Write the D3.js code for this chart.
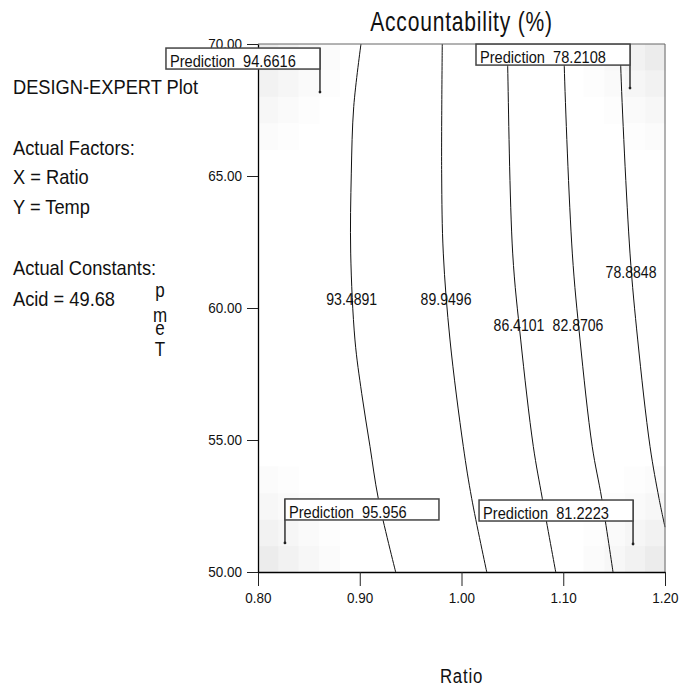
<!DOCTYPE html>
<html>
  <head>
    <title>Accountability contour plot</title>
    <script src="https://d3js.org/d3.v7.min.js"></script>
    <style>
      body { margin: 0; background: #fff; }
      text { font-family: "Liberation Sans", Arial, sans-serif; fill: #111; white-space: pre; }
    </style>
  </head>
  <body>
    <div id="chart"></div>
    <script>
      // Axis ticks
      var ratioTicks = [0.80, 0.90, 1.00, 1.10, 1.20];
      var tempTicks = [50, 55, 60, 65, 70];

      // Contour levels and their lines as [Ratio, Temp] points
      var contourLevels = ["93.4891", "89.9496", "86.4101", "82.8706", "78.8848"];
      var contour93 = [[0.9012, 70], [0.8941, 67.63], [0.8917, 65.11], [0.8911, 62.08], [0.8953, 58.79], [0.9019, 56.77], [0.9101, 54.75], [0.9182, 52.79], [0.9353, 50]];
      var contour90 = [[0.9811, 70], [0.9805, 65.11], [0.9821, 62.08], [0.9887, 58.79], [1.0018, 54.75], [1.0100, 52.79], [1.0248, 50]];
      var contour86 = [[1.0450, 70], [1.0454, 69.14], [1.0503, 62.08], [1.0582, 58.79], [1.0706, 54.75], [1.0794, 52.79], [1.0926, 50]];
      var contour83 = [[1.1007, 70], [1.1010, 69.14], [1.1089, 62.08], [1.1165, 58.79], [1.1285, 54.75], [1.1378, 52.79], [1.1489, 50]];
      var contour79 = [[1.1562, 70], [1.1565, 69.14], [1.1656, 62.08], [1.1732, 58.79], [1.1853, 54.75], [1.1941, 52.79], [1.2000, 51.70]];
      var contourLines = [contour93, contour90, contour86, contour83, contour79];

      // where each level label sits
      var labelRatio = [0.8921, 0.9848, 1.0565, 1.1145, 1.1666];
      var labelTemp = [60.11, 60.11, 59.13, 59.13, 61.15];

      // Prediction flags
      var predValues = ["94.6616", "78.2108", "95.956", "81.2223"];
      var predRatio = [0.8609, 1.1656, 0.8265, 1.1686];
      var predTemp = [68.18, 68.33, 51.10, 51.06];

      // standard error shading in the corners (grey level, corner cell first)
      var cornerShade = [
        [0.925, 0.950, 0.968, 0.985],
        [0.950, 0.965, 0.982, 0.993],
        [0.968, 0.982, 0.993, 1.000],
        [0.985, 0.993, 1.000, 1.000]
      ];

      var sideText = [
        ["DESIGN-EXPERT Plot", 94],
        ["Actual Factors:", 155],
        ["X = Ratio", 184],
        ["Y = Temp", 214],
        ["Actual Constants:", 275],
        ["Acid = 49.68", 306]
      ];

      var width = 680, height = 689;
      var pLeft = 258, pRight = 665, pTop = 44, pBottom = 572;

      var svg = d3.select("#chart")
        .append("svg")
        .attr("width", width)
        .attr("height", height);

      var x = d3.scaleLinear().domain([0.8, 1.2]).range([pLeft, pRight]);
      var y = d3.scaleLinear().domain([50, 70]).range([pBottom, pTop]);

      // squash text horizontally, keeping its anchor point where it was
      function squeeze(sel, sx) {
        sel.each(function() {
          var t = d3.select(this);
          var tx = +t.attr("x") || 0, ty = +t.attr("y") || 0;
          t.attr("x", 0).attr("y", 0)
            .attr("transform", "translate(" + tx + "," + ty + ") scale(" + sx + ",1)");
        });
      }

      // corner shading grid (20 x 20 cells)
      var nCells = 20;
      var cw = (pRight - pLeft) / nCells, ch = (pBottom - pTop) / nCells;
      var cells = [];
      cornerShade.forEach(function(row, i) {
        row.forEach(function(v, j) {
          if (v >= 1) return;
          cells.push({ c: j, r: i, v: v });
          cells.push({ c: nCells - 1 - j, r: i, v: v });
          cells.push({ c: j, r: nCells - 1 - i, v: v });
          cells.push({ c: nCells - 1 - j, r: nCells - 1 - i, v: v });
        });
      });
      svg.append("g").selectAll("rect")
        .data(cells)
        .enter()
        .append("rect")
        .attr("x", function(d) { return pLeft + d.c * cw; })
        .attr("y", function(d) { return pTop + d.r * ch; })
        .attr("width", cw + 0.5)
        .attr("height", ch + 0.5)
        .attr("fill", function(d) { var g = Math.round(d.v * 255); return d3.rgb(g, g, g); });

      // contour lines
      var line = d3.line()
        .x(function(d) { return x(d[0]); })
        .y(function(d) { return y(d[1]); })
        .curve(d3.curveCatmullRom.alpha(0.5));

      svg.append("g").selectAll("path")
        .data(contourLines)
        .enter()
        .append("path")
        .attr("d", line)
        .attr("fill", "none")
        .attr("stroke", "#111")
        .attr("stroke-width", 1);

      svg.append("g").selectAll("text")
        .data(contourLevels)
        .enter()
        .append("text")
        .attr("x", function(d, i) { return x(labelRatio[i]); })
        .attr("y", function(d, i) { return y(labelTemp[i]); })
        .attr("text-anchor", "middle")
        .style("font-size", "16px")
        .text(function(d) { return d; })
        .call(squeeze, 0.88);

      // frame: top and right in grey
      svg.append("path")
        .attr("d", "M" + pLeft + "," + pTop + "H" + pRight + "V" + pBottom)
        .attr("fill", "none")
        .attr("stroke", "#666")
        .attr("stroke-width", 1);

      // axes
      var xAxis = svg.append("g")
        .attr("transform", "translate(0," + pBottom + ")")
        .call(d3.axisBottom(x).tickValues(ratioTicks).tickFormat(d3.format(".2f")).tickSize(14).tickSizeOuter(0).tickPadding(6));
      var yAxis = svg.append("g")
        .attr("transform", "translate(" + pLeft + ",0)")
        .call(d3.axisLeft(y).tickValues(tempTicks).tickFormat(d3.format(".2f")).tickSize(11).tickSizeOuter(0).tickPadding(5));

      [xAxis, yAxis].forEach(function(ax) {
        ax.select(".domain").attr("stroke", "#000").attr("stroke-width", 1.3);
        ax.selectAll(".tick line").attr("stroke", "#222");
        ax.selectAll(".tick text")
          .style("font-size", "15px")
          .style("font-family", "'Liberation Sans', Arial, sans-serif")
          .attr("fill", "#111")
          .call(squeeze, 0.9);
      });

      // prediction flags
      var boxW = 154, boxH = 21, boxGap = 23;
      var boxOnRight = [false, false, true, false];
      var flags = svg.append("g").selectAll("g")
        .data(predValues)
        .enter()
        .append("g")
        .attr("transform", function(d, i) { return "translate(" + x(predRatio[i]) + "," + y(predTemp[i]) + ")"; });

      flags.append("line")
        .attr("x1", 0).attr("x2", 0)
        .attr("y1", -boxGap - boxH).attr("y2", 0)
        .attr("stroke", "#333")
        .attr("stroke-width", 1.5);
      flags.append("circle")
        .attr("r", 1.4)
        .attr("fill", "#222");
      flags.append("rect")
        .attr("x", function(d, i) { return boxOnRight[i] ? 0 : -boxW; })
        .attr("y", -boxGap - boxH)
        .attr("width", boxW)
        .attr("height", boxH)
        .attr("fill", "#fff")
        .attr("stroke", "#444")
        .attr("stroke-width", 1.5);
      flags.append("text")
        .attr("x", function(d, i) { return (boxOnRight[i] ? 0 : -boxW) + 4; })
        .attr("y", -boxGap - 2)
        .style("font-size", "17px")
        .text(function(d) { return "Prediction  " + d; })
        .call(squeeze, 0.86);

      // title and axis labels
      svg.append("text")
        .attr("x", (pLeft + pRight) / 2)
        .attr("y", 31)
        .attr("text-anchor", "middle")
        .style("font-size", "27px")
        .style("letter-spacing", "1px")
        .text("Accountability (%)")
        .call(squeeze, 0.78);

      svg.append("text")
        .attr("x", (pLeft + pRight) / 2)
        .attr("y", 683)
        .attr("text-anchor", "middle")
        .style("font-size", "21px")
        .style("letter-spacing", "1px")
        .text("Ratio")
        .call(squeeze, 0.8);

      // stacked y label, read bottom to top
      var tempChars = [["T", 356], ["e", 335], ["m", 322], ["p", 297]];
      svg.append("g").selectAll("text")
        .data(tempChars)
        .enter()
        .append("text")
        .attr("x", 160)
        .attr("y", function(d) { return d[1]; })
        .attr("text-anchor", "middle")
        .style("font-size", "20px")
        .text(function(d) { return d[0]; })
        .call(squeeze, 0.85);

      // notes on the left
      svg.append("g").selectAll("text")
        .data(sideText)
        .enter()
        .append("text")
        .attr("x", 13)
        .attr("y", function(d) { return d[1]; })
        .style("font-size", "21px")
        .text(function(d) { return d[0]; })
        .call(squeeze, 0.87);
    </script>
  </body>
</html>
